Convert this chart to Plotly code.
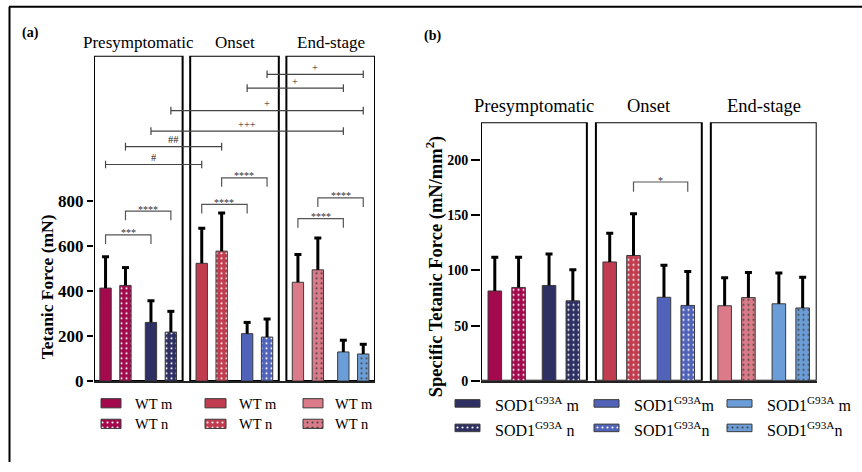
import plotly.graph_objects as go

W, H = 862, 472
SERIF = "Liberation Serif"

# ---------------------------------------------------------------- data
stages = ["Presymptomatic", "Onset", "End-stage"]
muscles = ["m", "n", "m", "n"]          # WT m, WT n, SOD1 m, SOD1 n within each stage

tetanic_force = [[412, 424, 260, 217],
                 [522, 576, 210, 195],
                 [438, 493, 129, 120]]
tetanic_force_err = [[139, 79, 96, 92],
                     [155, 169, 50, 80],
                     [123, 141, 52, 43]]

specific_force = [[81.4, 84.6, 86.4, 72.5],
                  [107.7, 113.6, 75.7, 68.3],
                  [68.0, 75.4, 69.8, 66.0]]
specific_force_err = [[30.6, 27.4, 28.6, 28.1],
                      [26.0, 37.9, 29.0, 30.8],
                      [25.5, 22.8, 27.8, 27.8]]

tetanic_ticks = [0, 200, 400, 600, 800]
specific_ticks = [0, 50, 100, 150, 200]

# within-stage comparisons: (stage, bar i, bar j, bracket height, label)
tetanic_within = [(0, 0, 2, 648, "***"), (0, 1, 3, 753, "****"),
                  (1, 0, 2, 783, "****"), (1, 1, 3, 901, "****"),
                  (2, 0, 2, 720, "****"), (2, 1, 3, 812, "****")]
# across-stage comparisons: (stage a, bar a, stage b, bar b, height, label)
tetanic_across = [(0, 0, 1, 0, 960, "#"), (0, 1, 1, 1, 1039, "##"),
                  (0, 2, 2, 2, 1108, "+++"), (0, 3, 2, 3, 1199, "+"),
                  (1, 2, 2, 2, 1299, "+"), (1, 3, 2, 3, 1360, "+")]
specific_within = [(1, 1, 3, 180.2, "*")]

wt_legend = ["WT m", "WT n"]
sod_legend = [["SOD1<sup>G93A</sup> m", "SOD1<sup>G93A</sup> n"],
              ["SOD1<sup>G93A</sup>m", "SOD1<sup>G93A</sup>n"],
              ["SOD1<sup>G93A</sup> m", "SOD1<sup>G93A</sup>n"]]

# ---------------------------------------------------------------- styles
wt_colors = ["#A3094C", "#C13C4E", "#DB7A88"]
sod_colors = ["#2E2F63", "#5163B9", "#6B9ED8"]
wt_dots = ["#F4BDD3", "#7A1828", "#6E2430"]
sod_dots = ["#B4B6E0", "#D6DCF8", "#1E3F66"]

OFFSETS = [0.0, 1.0, 2.28, 3.28]
PITCH = 4.83
BOX_L, BOX_R = -0.58, 3.87
BAR_W = 0.57


def xpos(stage, i):
    return stage * PITCH + OFFSETS[i]


def py(y):
    return 1 - y / H


def px(x):
    return x / W


def bar_style(stage, i):
    fill = wt_colors[stage] if i < 2 else sod_colors[stage]
    dots = wt_dots[stage] if i < 2 else sod_dots[stage]
    return fill, dots, ("." if muscles[i] == "n" else "")


def bar_marker(fills, dots, pats):
    return dict(color=fills, line=dict(color="#3a3a3a", width=1),
                pattern=dict(shape=pats, fgcolor=dots, fgopacity=1,
                             size=5, solidity=0.14, fillmode="overlay"))


fig = go.Figure()
shapes, annots = [], []

panels = [
    dict(vals=tetanic_force, errs=tetanic_force_err, xa="x", ya="y",
         dom_x=(94, 375), dom_y=(389.3, 57), top=1442, ticks=tetanic_ticks,
         tickfont=17, ticklen=6, stage_font=17, stage_y=43, cap=17),
    dict(vals=specific_force, errs=specific_force_err, xa="x2", ya="y2",
         dom_x=(481, 816.7), dom_y=(389, 125), top=234.3, ticks=specific_ticks,
         tickfont=14, ticklen=9, stage_font=18.5, stage_y=108, cap=3.5),
]

for p in panels:
    xs, ys, errs, fills, dots, pats = [], [], [], [], [], []
    for s in range(len(stages)):
        for i in range(4):
            f, d, sh = bar_style(s, i)
            xs.append(xpos(s, i))
            ys.append(p["vals"][s][i])
            errs.append(p["errs"][s][i])
            fills.append(f)
            dots.append(d)
            pats.append(sh)
    fig.add_trace(go.Bar(x=xs, y=ys, width=BAR_W, xaxis=p["xa"], yaxis=p["ya"],
                         marker=bar_marker(fills, dots, pats),
                         showlegend=False, hoverinfo="skip"))
    # one-sided error bars: stems and caps
    sx, sy = [], []
    for x, v, e in zip(xs, ys, errs):
        sx += [x, x, None]
        sy += [v, v + e, None]
    fig.add_trace(go.Scatter(x=sx, y=sy, mode="lines", xaxis=p["xa"], yaxis=p["ya"],
                             line=dict(color="black", width=3),
                             showlegend=False, hoverinfo="skip"))
    fig.add_trace(go.Scatter(x=xs, y=[v + e for v, e in zip(ys, errs)], mode="markers",
                             xaxis=p["xa"], yaxis=p["ya"],
                             marker=dict(symbol="line-ew", size=5, color="black",
                                         line=dict(color="black", width=3)),
                             showlegend=False, hoverinfo="skip"))
    # stage boxes and titles
    for s, name in enumerate(stages):
        x0 = s * PITCH + BOX_L
        x1 = s * PITCH + BOX_R
        shapes.append(dict(type="rect", xref=p["xa"], yref=p["ya"], x0=x0, x1=x1,
                           y0=0, y1=p["top"], line=dict(color="black", width=2),
                           layer="below"))
        annots.append(dict(text=name, xref=p["xa"], yref="paper", x=(x0 + x1) / 2,
                           y=py(p["stage_y"]), xanchor="center", yanchor="middle",
                           showarrow=False,
                           font=dict(family=SERIF, size=p["stage_font"], color="black")))


def within_bracket(p, stage, i, j, h, label, drop, size, lift):
    xa, ya = p["xa"], p["ya"]
    x1, x2 = xpos(stage, i), xpos(stage, j)
    shapes.append(dict(type="path", xref=xa, yref=ya,
                       path=f"M{x1},{h - drop} L{x1},{h} L{x2},{h} L{x2},{h - drop}",
                       line=dict(color="#555555", width=1.2)))
    annots.append(dict(text=label, xref=xa, yref=ya, x=(x1 + x2) / 2, y=h,
                       xanchor="center", yanchor="middle", yshift=lift, showarrow=False,
                       font=dict(family=SERIF, size=size, color="#333333")))


pa, pb = panels
for s, i, j, h, lab in tetanic_within:
    within_bracket(pa, s, i, j, h, lab, 40, 10, 2)
for s, i, j, h, lab in specific_within:
    within_bracket(pb, s, i, j, h, lab, 8.9, 10, 2)

for sa, ia, sb, ib, h, lab in tetanic_across:
    x1, x2 = xpos(sa, ia), xpos(sb, ib)
    c = pa["cap"]
    shapes.append(dict(type="path", xref="x", yref="y",
                       path=(f"M{x1},{h - c} L{x1},{h + c} M{x1},{h} L{x2},{h} "
                             f"M{x2},{h - c} L{x2},{h + c}"),
                       line=dict(color="#444444", width=1.2)))
    annots.append(dict(text=lab, xref="x", yref="y", x=(x1 + x2) / 2, y=h,
                       xanchor="center", yanchor="middle", yshift=7, showarrow=False,
                       font=dict(family=SERIF, size=10.5, color="#222222")))

# ---------------------------------------------------------------- legends
leg_x, leg_w, leg_h, leg_base, leg_fill, leg_dot, leg_pat = [], [], [], [], [], [], []
wt_cols = [(101, 121, 133), (205, 226, 237), (303, 323, 333)]
wt_rows = [(407.3, 416.7), (428.3, 437.7)]
sod_cols = [(455, 480, 493), (594, 619, 632), (727, 752, 765)]
sod_rows = [(408.3, 416), (433.3, 441)]
for s in range(3):
    for r in range(2):
        f, d, sh = bar_style(s, r)
        a, b, tx = wt_cols[s]
        y0, y1 = wt_rows[r]
        leg_x.append((a + b) / 2); leg_w.append(b - a)
        leg_base.append(y0); leg_h.append(y1 - y0)
        leg_fill.append(f); leg_dot.append(d); leg_pat.append(sh)
        annots.append(dict(text=wt_legend[r], xref="paper", yref="paper", x=px(tx),
                           y=py((y0 + y1) / 2 + 0.5), xanchor="left", yanchor="middle",
                           showarrow=False, font=dict(family=SERIF, size=14.5, color="black")))

        f, d, sh = bar_style(s, r + 2)
        a, b, tx = sod_cols[s]
        y0, y1 = sod_rows[r]
        leg_x.append((a + b) / 2); leg_w.append(b - a)
        leg_base.append(y0); leg_h.append(y1 - y0)
        leg_fill.append(f); leg_dot.append(d); leg_pat.append(sh)
        annots.append(dict(text=sod_legend[s][r], xref="paper", yref="paper", x=px(tx),
                           y=py((y0 + y1) / 2 + 1), xanchor="left", yanchor="middle",
                           showarrow=False, font=dict(family=SERIF, size=16, color="black")))

fig.add_trace(go.Bar(x=leg_x, y=leg_h, base=leg_base, width=leg_w, xaxis="x3", yaxis="y3",
                     marker=bar_marker(leg_fill, leg_dot, leg_pat),
                     showlegend=False, hoverinfo="skip"))

# ---------------------------------------------------------------- titles
annots += [
    dict(text="<b>(a)</b>", xref="paper", yref="paper", x=px(30), y=py(34),
         xanchor="center", yanchor="middle", showarrow=False,
         font=dict(family=SERIF, size=14, color="black")),
    dict(text="<b>(b)</b>", xref="paper", yref="paper", x=px(433), y=py(37),
         xanchor="center", yanchor="middle", showarrow=False,
         font=dict(family=SERIF, size=14, color="black")),
    dict(text="<b>Tetanic Force (mN)</b>", xref="paper", yref="paper", x=px(47),
         y=py(293.5), xanchor="center", yanchor="middle", textangle=-90, showarrow=False,
         font=dict(family=SERIF, size=17.5, color="black")),
    dict(text="<b>Specific Tetanic Force (mN/mm<sup>2</sup>)</b>", xref="paper",
         yref="paper", x=px(434), y=py(273), xanchor="center", yanchor="middle",
         textangle=-90, showarrow=False,
         font=dict(family=SERIF, size=18.5, color="black")),
]

# outer frame (top and left edges)
shapes += [
    dict(type="line", xref="paper", yref="paper", x0=px(9), x1=1.0, y0=py(7), y1=py(7),
         line=dict(color="black", width=2)),
    dict(type="line", xref="paper", yref="paper", x0=px(9.5), x1=px(9.5), y0=py(7), y1=0,
         line=dict(color="black", width=2)),
]


def xaxis_cfg(dom):
    return dict(domain=[px(dom[0]), px(dom[1])], range=[BOX_L, 2 * PITCH + BOX_R],
                showgrid=False, zeroline=False, showticklabels=False, ticks="",
                showline=True, linecolor="#222222", linewidth=2, fixedrange=True)


def yaxis_cfg(p, anchor):
    return dict(domain=[py(p["dom_y"][0]), py(p["dom_y"][1])], range=[0, p["top"]],
                anchor=anchor, tickvals=p["ticks"], ticks="outside",
                ticklen=p["ticklen"], tickwidth=2, tickcolor="black", showgrid=False,
                zeroline=False, showline=False, fixedrange=True,
                tickfont=dict(family=SERIF, size=p["tickfont"], color="black",
                              weight="bold"))


fig.update_layout(
    width=W, height=H, margin=dict(l=0, r=0, t=0, b=0),
    paper_bgcolor="white", plot_bgcolor="rgba(0,0,0,0)",
    barmode="overlay", showlegend=False,
    xaxis=dict(anchor="y", **xaxis_cfg(pa["dom_x"])),
    yaxis=yaxis_cfg(pa, "x"),
    xaxis2=dict(anchor="y2", **xaxis_cfg(pb["dom_x"])),
    yaxis2=yaxis_cfg(pb, "x2"),
    xaxis3=dict(domain=[0, 1], range=[0, W], anchor="y3", visible=False, fixedrange=True),
    yaxis3=dict(domain=[0, 1], range=[H, 0], anchor="x3", visible=False, fixedrange=True),
    shapes=shapes, annotations=annots,
)

fig.write_html("out.html")
